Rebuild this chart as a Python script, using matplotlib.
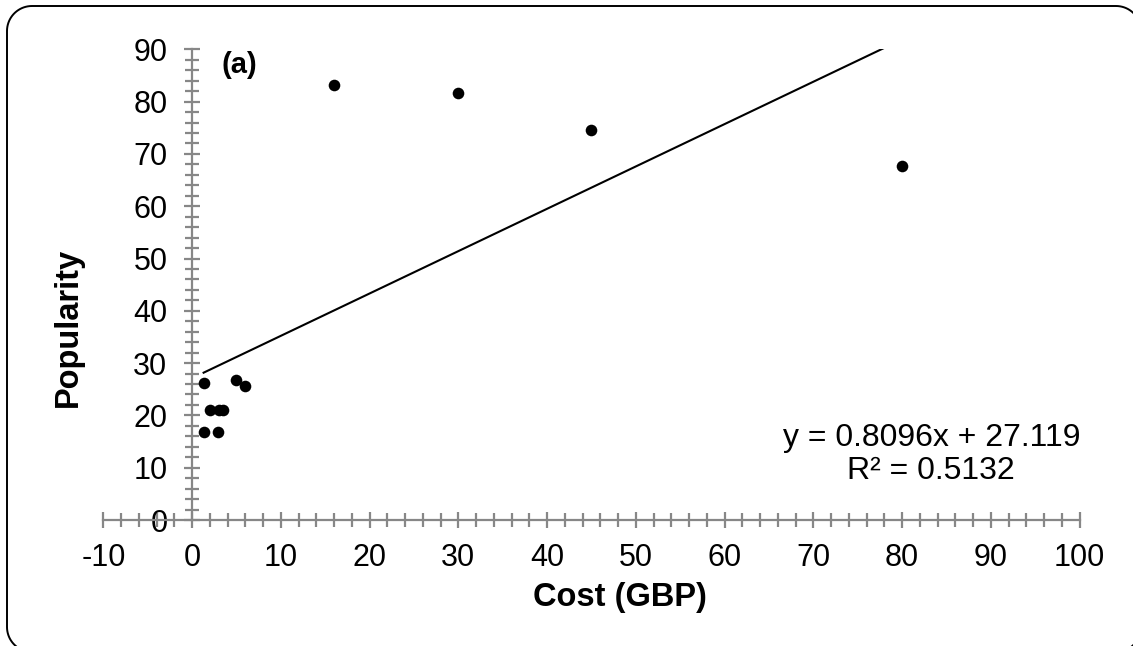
import matplotlib
matplotlib.use("Agg")
import matplotlib.pyplot as plt
import numpy as np
from matplotlib.patches import PathPatch
from matplotlib.path import Path
from matplotlib.ticker import MultipleLocator

plt.rcParams["font.family"] = ["Liberation Sans", "DejaVu Sans"]
plt.rcParams["axes.unicode_minus"] = False

# data
cost = [1.3, 2.0, 3.0, 3.5, 1.3, 2.9, 5.0, 6.0, 16.0, 30.0, 45.0, 80.0]
popularity = [26.2, 21.0, 21.0, 21.0, 16.8, 16.8, 26.8, 25.7, 83.1, 81.6, 74.5, 67.6]
trend_slope = 0.8096
trend_intercept = 27.119
r_squared = 0.5132
panel_label = "(a)"

tick_grey = "#878787"

fig = plt.figure(figsize=(11.33, 6.46), dpi=100)
ax = fig.add_axes([0.0912, 0.195, 0.8616, 0.7287])

ax.scatter(cost, popularity, s=70, color="black", zorder=3, linewidths=0)

xt = np.array([min(cost), max(cost)])
ax.plot(xt, trend_slope * xt + trend_intercept, color="black", lw=1.5, zorder=2)

ax.set_xlim(-10, 100)
ax.set_ylim(0, 90)

for side in ("top", "right"):
    ax.spines[side].set_visible(False)
ax.spines["left"].set_position(("data", 0))
ax.spines["bottom"].set_position(("data", 0))
for side in ("left", "bottom"):
    ax.spines[side].set_color(tick_grey)
    ax.spines[side].set_linewidth(1.6)

ax.xaxis.set_major_locator(MultipleLocator(10))
ax.xaxis.set_minor_locator(MultipleLocator(2))
ax.yaxis.set_major_locator(MultipleLocator(10))
ax.yaxis.set_minor_locator(MultipleLocator(2))
ax.tick_params(which="major", direction="inout", length=11.5, width=1.6,
               color=tick_grey, labelsize=22, pad=11)
ax.tick_params(which="minor", direction="inout", length=10, width=1.6,
               color=tick_grey)
ax.tick_params(axis="y", which="major", pad=12)

ax.set_xlabel("Cost (GBP)", fontsize=23.5, fontweight="bold", va="center")
ax.xaxis.set_label_coords(0.529, -0.164)
ax.set_ylabel("Popularity", fontsize=23.5, fontweight="bold", va="center")
ax.yaxis.set_label_coords(-0.036, 0.41)

ax.text(3.3, 87.0, panel_label, fontsize=21, fontweight="bold", va="center", ha="left")
ax.text(83.3, 12.5,
        f"y = {trend_slope}x + {trend_intercept}\nR\u00b2 = {r_squared}",
        fontsize=23, ha="center", va="center", linespacing=1.1)

# rounded chart border, in figure pixels (runs off the right/bottom edge)
x0, y0, x1, y1, r = 7, -6, 1141, 640, 25
verts = []
for cx, cy, a0 in ((x1 - r, y1 - r, 0), (x0 + r, y1 - r, 90),
                   (x0 + r, y0 + r, 180), (x1 - r, y0 + r, 270)):
    a = np.radians(np.linspace(a0, a0 + 90, 20))
    verts += list(zip(cx + r * np.cos(a), cy + r * np.sin(a)))
verts.append(verts[0])
border = PathPatch(Path(verts), transform=None, fill=False,
                   edgecolor="black", linewidth=1.4, clip_on=False)
fig.add_artist(border)

fig.savefig("out.png", dpi=100)
